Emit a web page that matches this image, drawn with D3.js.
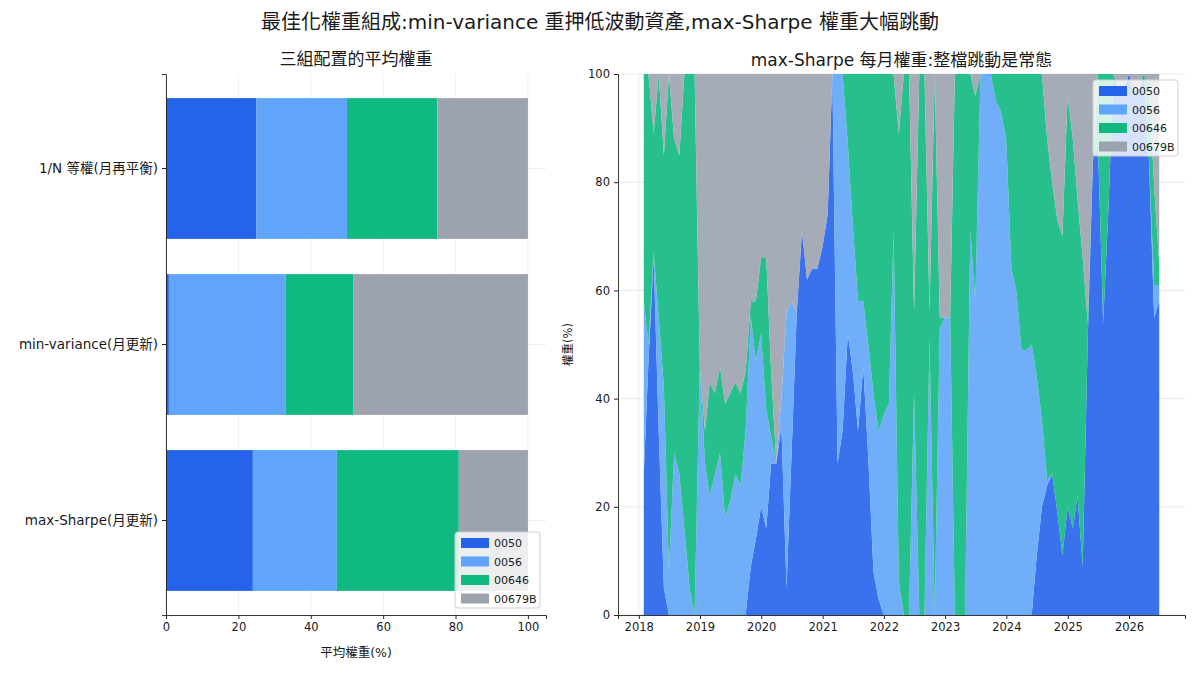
<!DOCTYPE html>
<html>
<head>
<meta charset="utf-8">
<script src="https://d3js.org/d3.v7.min.js"></script>
<style>
  body { margin: 0; background: #fff; }
  svg text { font-family: "DejaVu Sans", "Noto Sans CJK TC", sans-serif; fill: #1a1a1a; }
</style>
</head>
<body>
<svg id="chart"></svg>
<script>
var w = 1200;
var h = 675;

var assets = ["0050", "0056", "00646", "00679B"];
var colors = ["#2563eb", "#60a5fa", "#10b981", "#9ca3af"];

// left panel: average weight of each config (%)
var configs = ["1/N 等權(月再平衡)", "min-variance(月更新)", "max-Sharpe(月更新)"];
var avg0050   = [25, 0.8, 24.0];
var avg0056   = [25, 32.3, 23.2];
var avg00646  = [25, 18.6, 33.7];
var avg00679B = [25, 48.3, 19.1];

// right panel: max-Sharpe monthly weights (%), one value per month end from 2018-01
var firstMonth = [2018, 0];
var w0050 = [26, 47, 66, 34, 5, 0, 0, 0, 0, 0, 0, 0, 0, 0, 0, 0, 0, 0, 0, 0,
  0, 9, 14, 20, 16, 28, 28, 35, 5, 30, 56, 71, 62, 64, 64, 68, 74, 100, 28, 34,
  52, 45, 34, 46, 29, 8, 3, 0, 0, 0, 0, 0, 0, 0, 0, 0, 0, 0, 0, 0,
  0, 0, 0, 0, 0, 0, 0, 0, 0, 0, 0, 0, 0, 0, 0, 0, 0, 11, 20, 24,
  26, 19, 11, 20, 16, 22, 9, 51, 84, 87, 54, 75, 100, 97, 97, 100, 97, 97, 100, 84,
  55, 58];
var w0056 = [32, 3, 1, 21, 37, 8, 30, 26, 16, 5, 0, 46, 28, 22, 26, 30, 18, 21, 26, 24,
  34, 46, 33, 32, 22, 5, 0, 5, 51, 28, 0, 0, 0, 0, 0, 0, 0, 0, 72, 66,
  35, 27, 24, 12, 21, 33, 31, 37, 39, 71, 6, 0, 0, 41, 0, 0, 51, 0, 53, 55,
  55, 0, 0, 0, 71, 58, 100, 100, 100, 95, 93, 88, 64, 60, 49, 49, 50, 33, 16, 1,
  0, 0, 0, 0, 0, 0, 0, 0, 0, 0, 0, 0, 0, 0, 0, 0, 0, 0, 0, 0,
  6, 3];
var w00646 = [42, 50, 22, 45, 43, 92, 58, 59, 84, 95, 100, 0, 6, 21, 15, 16, 21, 20, 17, 17,
  11, 3, 11, 14, 28, 12, 0, 0, 0, 0, 0, 0, 0, 0, 0, 0, 0, 0, 0, 0,
  13, 28, 42, 42, 50, 59, 66, 63, 61, 29, 83, 100, 100, 15, 100, 100, 5, 100, 2, 0,
  0, 100, 100, 100, 29, 38, 0, 0, 0, 5, 7, 12, 36, 40, 51, 51, 50, 56, 64, 63,
  54, 54, 59, 76, 72, 55, 57, 3, 0, 13, 46, 25, 0, 0, 0, 0, 0, 0, 0, 14,
  18, 4];
var w00679B = [0, 0, 11, 0, 15, 0, 12, 15, 0, 0, 0, 54, 66, 57, 59, 54, 61, 59, 57, 59,
  55, 42, 42, 34, 34, 55, 72, 60, 44, 42, 44, 29, 38, 36, 36, 32, 26, 0, 0, 0,
  0, 0, 0, 0, 0, 0, 0, 0, 0, 0, 11, 0, 0, 44, 0, 0, 44, 0, 45, 45,
  45, 0, 0, 0, 0, 4, 0, 0, 0, 0, 0, 0, 0, 0, 0, 0, 0, 0, 0, 12,
  20, 27, 30, 4, 12, 23, 34, 46, 16, 0, 0, 0, 0, 3, 3, 0, 3, 3, 0, 2,
  21, 35];

var svg = d3.select("#chart").attr("width", w).attr("height", h);

svg.append("text")
  .attr("x", 600).attr("y", 29)
  .attr("text-anchor", "middle")
  .style("font-size", "20px")
  .text("最佳化權重組成:min-variance 重押低波動資產,max-Sharpe 權重大幅跳動");

function drawLegend(g, x, y) {
  g.append("rect")
    .attr("x", x).attr("y", y).attr("width", 85).attr("height", 76)
    .attr("rx", 3)
    .style("fill", "#fff").style("fill-opacity", 0.8)
    .style("stroke", "#d0d0d0");
  assets.forEach(function(a, i) {
    g.append("rect")
      .attr("x", x + 6).attr("y", y + 6 + i * 18.5)
      .attr("width", 28).attr("height", 10)
      .style("fill", colors[i]);
    g.append("text")
      .attr("x", x + 39).attr("y", y + 15 + i * 18.5)
      .style("font-size", "11px")
      .text(a);
  });
}

// ---------- left: average weights ----------
var L = {left: 166, right: 546, top: 74, bottom: 615};
var left = svg.append("g");

var xL = d3.scaleLinear().domain([0, 105]).range([L.left, L.right]);
var yL = d3.scaleBand().domain(configs).range([L.top, L.bottom])
  .paddingInner(0.2).paddingOuter(0.137);

var avgRows = configs.map(function(c, i) {
  return {config: c, "0050": avg0050[i], "0056": avg0056[i], "00646": avg00646[i], "00679B": avg00679B[i]};
});
var avgStack = d3.stack().keys(assets)(avgRows);

left.append("g")
  .selectAll("line")
  .data(xL.ticks(5))
  .enter().append("line")
  .attr("x1", function(d){ return xL(d); }).attr("x2", function(d){ return xL(d); })
  .attr("y1", L.top).attr("y2", L.bottom)
  .style("stroke", "#ebebeb").style("stroke-width", 0.8);
left.append("g")
  .selectAll("line")
  .data(configs)
  .enter().append("line")
  .attr("x1", L.left).attr("x2", L.right)
  .attr("y1", function(d){ return yL(d) + yL.bandwidth() / 2; })
  .attr("y2", function(d){ return yL(d) + yL.bandwidth() / 2; })
  .style("stroke", "#ebebeb").style("stroke-width", 0.8);

left.selectAll("g.layer")
  .data(avgStack)
  .enter().append("g")
  .attr("class", "layer")
  .style("fill", function(d, i){ return colors[i]; })
  .selectAll("rect")
  .data(function(d){ return d; })
  .enter().append("rect")
  .attr("x", function(d){ return xL(d[0]); })
  .attr("width", function(d){ return xL(d[1]) - xL(d[0]); })
  .attr("y", function(d){ return yL(d.data.config); })
  .attr("height", yL.bandwidth());

var xAxisL = left.append("g")
  .attr("transform", "translate(0," + L.bottom + ")")
  .call(d3.axisBottom(xL).ticks(5).tickSize(4).tickPadding(4));
var yAxisL = left.append("g")
  .attr("transform", "translate(" + L.left + ",0)")
  .call(d3.axisLeft(yL).tickSize(4).tickPadding(4));
[xAxisL, yAxisL].forEach(function(ax) {
  ax.select(".domain").style("stroke", "#222").style("stroke-width", 0.9);
  ax.selectAll(".tick line").style("stroke", "#222");
  ax.selectAll(".tick text").style("font-size", "11.5px").style("font-family", null);
});
yAxisL.selectAll(".tick text").style("font-size", "13.5px");

left.append("text")
  .attr("x", (L.left + L.right) / 2).attr("y", 65)
  .attr("text-anchor", "middle").style("font-size", "17px")
  .text("三組配置的平均權重");
left.append("text")
  .attr("x", (L.left + L.right) / 2).attr("y", 657)
  .attr("text-anchor", "middle").style("font-size", "12.5px")
  .text("平均權重(%)");

drawLegend(left, 455, 532);

// ---------- right: monthly max-Sharpe weights ----------
var R = {left: 618, right: 1185, top: 74, bottom: 615};
var right = svg.append("g");

var monthStart = new Date(Date.UTC(firstMonth[0], firstMonth[1] + 1, 1));
var dates = w0050.map(function(v, i) {
  return d3.utcDay.offset(d3.utcMonth.offset(monthStart, i), -1);
});
var t0 = dates[0].getTime(), t1 = dates[dates.length - 1].getTime();
var pad = (t1 - t0) * 0.05;

var xR = d3.scaleUtc().domain([new Date(t0 - pad), new Date(t1 + pad)]).range([R.left, R.right]);
var yR = d3.scaleLinear().domain([0, 100]).range([R.bottom, R.top]);

var monthRows = dates.map(function(d, i) {
  return {date: d, "0050": w0050[i], "0056": w0056[i], "00646": w00646[i], "00679B": w00679B[i]};
});
var monthStack = d3.stack().keys(assets)(monthRows);

var yearTicks = xR.ticks(d3.utcYear.every(1));

right.append("g")
  .selectAll("line")
  .data(yearTicks)
  .enter().append("line")
  .attr("x1", function(d){ return xR(d); }).attr("x2", function(d){ return xR(d); })
  .attr("y1", R.top).attr("y2", R.bottom)
  .style("stroke", "#e4e4e4").style("stroke-width", 0.8);
right.append("g")
  .selectAll("line")
  .data(yR.ticks(5))
  .enter().append("line")
  .attr("x1", R.left).attr("x2", R.right)
  .attr("y1", function(d){ return yR(d); }).attr("y2", function(d){ return yR(d); })
  .style("stroke", "#e4e4e4").style("stroke-width", 0.8);

var area = d3.area()
  .x(function(d){ return xR(d.data.date); })
  .y0(function(d){ return yR(d[0]); })
  .y1(function(d){ return yR(d[1]); });

right.selectAll("path.area")
  .data(monthStack)
  .enter().append("path")
  .attr("class", "area")
  .attr("d", area)
  .style("fill", function(d, i){ return colors[i]; })
  .style("fill-opacity", 0.9);

var xAxisR = right.append("g")
  .attr("transform", "translate(0," + R.bottom + ")")
  .call(d3.axisBottom(xR).tickValues(yearTicks).tickFormat(d3.utcFormat("%Y")).tickSize(4).tickPadding(4));
var yAxisR = right.append("g")
  .attr("transform", "translate(" + R.left + ",0)")
  .call(d3.axisLeft(yR).ticks(5).tickSize(4).tickPadding(4));
[xAxisR, yAxisR].forEach(function(ax) {
  ax.select(".domain").style("stroke", "#222").style("stroke-width", 0.9);
  ax.selectAll(".tick line").style("stroke", "#222");
  ax.selectAll(".tick text").style("font-size", "11.5px").style("font-family", null);
});

right.append("text")
  .attr("x", (R.left + R.right) / 2).attr("y", 66)
  .attr("text-anchor", "middle").style("font-size", "17px")
  .text("max-Sharpe 每月權重:整檔跳動是常態");
right.append("text")
  .attr("transform", "translate(572," + (R.top + R.bottom) / 2 + ") rotate(-90)")
  .attr("text-anchor", "middle").style("font-size", "11.5px")
  .text("權重(%)");

drawLegend(right, 1093, 80);
</script>
</body>
</html>
